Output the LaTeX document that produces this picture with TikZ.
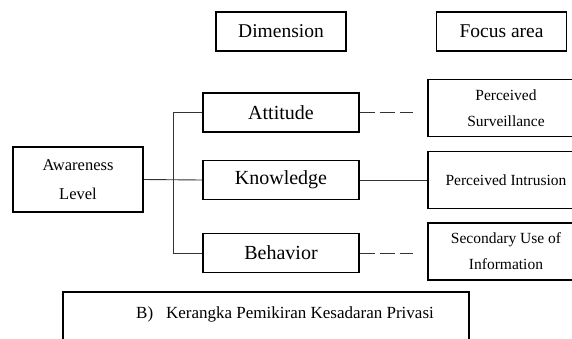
\documentclass[tikz,border=0pt]{standalone}
\usepackage{fontspec}
\setmainfont{Liberation Serif}
\usetikzlibrary{positioning}

\begin{document}
\begin{tikzpicture}[x=1pt, y=-1pt,
                  hd/.style={draw, line width=1.6pt, inner sep=0pt,
                              minimum width=130pt, minimum height=39pt,
                              font=\fontsize{19.5}{22}\selectfont},
                  dimbox/.style={draw, line width=1.6pt, inner sep=0pt,
                              minimum width=156pt, minimum height=39pt,
                              font=\fontsize{20}{22}\selectfont},
                  focbox/.style={draw, line width=1.6pt, inner sep=0pt, align=center,
                              minimum width=156pt, minimum height=57pt,
                              font=\fontsize{15.5}{26}\selectfont},
                  conn/.style={line width=0.9pt, black!80},
                  dconn/.style={conn, dash pattern=on 15pt off 5pt},
            ]
            \useasboundingbox (0,0) rectangle (572,338);
            \clip (0,0) rectangle (572,338);

            % ---- column heads ----
            \node[hd] (hdim) at (281, 31.5)   {Dimension};
            \node[hd] (hfoc) at (501.5, 31.5) {Focus area};

            % ---- root ----
            \node[draw, line width=1.6pt, inner sep=0pt, align=center,
                  minimum width=130pt, minimum height=65pt,
                  font=\fontsize{16.5}{29}\selectfont] (aw) at (78, 179.5) {Awareness\\Level};

            % ---- dimensions ----
            \node[dimbox] (at) at (281, 112.5) {Attitude};
            \node[dimbox] (kn) at (281, 180)   {Knowledge};
            \node[dimbox] (be) at (281, 253)   {Behavior};

            % ---- focus areas (cut by the right edge) ----
            \node[focbox] (fs) at (506, 108)   {Perceived\\Surveillance};
            \node[focbox] (fi) at (506, 180)   {Perceived Intrusion};
            \node[focbox] (fu) at (506, 251.5) {Secondary Use of\\Information};

            % ---- caption ----
            \node[draw, line width=1.6pt, minimum width=406pt, minimum height=80pt,
                  anchor=north west] (capbox) at (62, 291) {};
            \node[font=\fontsize{17}{20}\selectfont] (cap) at (285, 314)
                  {B)\hspace{13pt}Kerangka Pemikiran Kesadaran Privasi};

            % ---- connectors ----
            \coordinate (jt) at (173, 112.5);
            \coordinate (jb) at (173, 253);
            \coordinate (dt) at (413, 112.5);
            \coordinate (db) at (413, 253);
            \draw[conn] (at.west) -- (jt) -- (jb) -- (be.west);
            \draw[conn] (aw.east) -- (kn.west);
            \draw[conn] (kn.east) -- (fi.west);
            \draw[dconn] (at.east) -- (dt);
            \draw[dconn] (be.east) -- (db);

      \end{tikzpicture}
\end{document}
